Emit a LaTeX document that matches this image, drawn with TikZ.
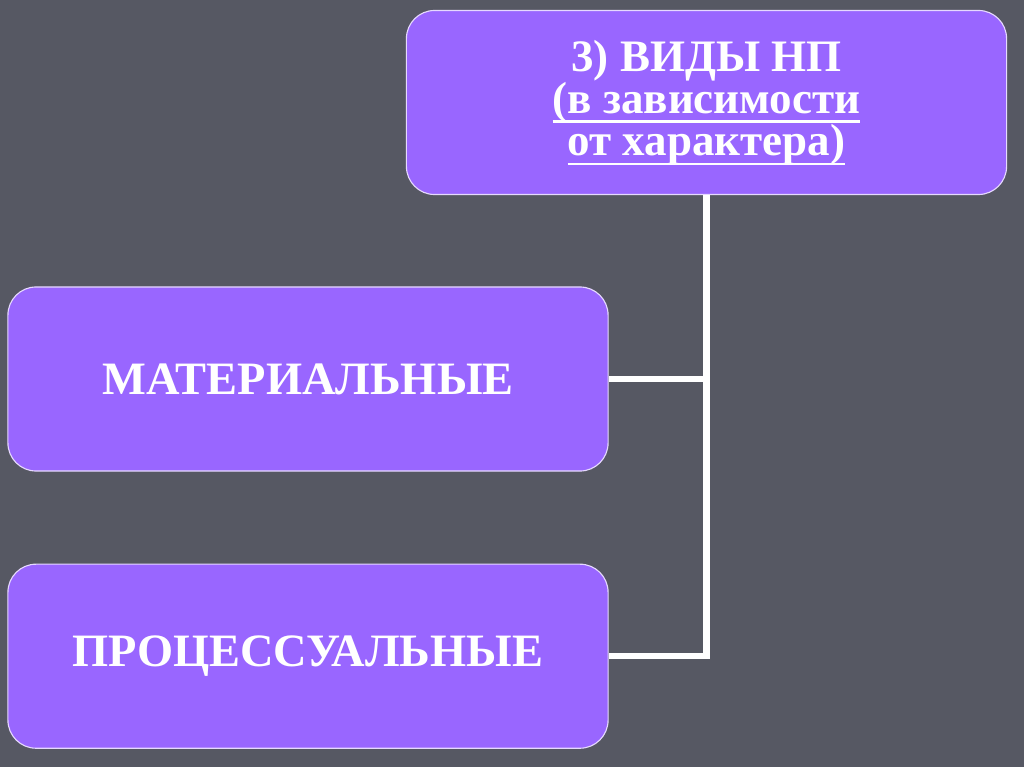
\documentclass[tikz,border=0pt]{standalone}
\usepackage{fontspec}
\setmainfont{Liberation Serif}
\usetikzlibrary{positioning}
\definecolor{bgslate}{RGB}{86,88,99}
\definecolor{boxviolet}{RGB}{153,102,255}
\newcommand{\ulline}[1]{\setbox0\hbox{#1}\rlap{\smash{\rule[-7pt]{\wd0}{2pt}}}\box0}
\tikzset{
  vbox/.style={draw=white!75!boxviolet, line width=0.8pt, fill=boxviolet,
    rounded corners=20pt, text=white, align=center,
    inner sep=0pt, minimum width=15cm, minimum height=4.6cm,
    font=\bfseries\fontsize{33}{36}\selectfont},
  conn/.style={draw=white, line width=4.3pt}
}
\begin{document}
\begin{tikzpicture}[x=0.025cm,y=-0.025cm]
				\fill[bgslate] (0,0) rectangle (1024,767);
				\useasboundingbox (0,0) rectangle (1024,767);
				\node[vbox, font=\bfseries\fontsize{32}{28}\selectfont](vidy) at (706.5,102.5){3) ВИДЫ НП\\\ulline{(в зависимости}\\\ulline{от характера)}};
				\node[vbox](mater) at (308,379){МАТЕРИАЛЬНЫЕ};
				\node[vbox, below=2.3cm of mater](protsess){ПРОЦЕССУАЛЬНЫЕ};
				\draw[conn](vidy.south) |- (protsess.east);
				\draw[conn](mater.east) -- (mater.east -| vidy.south);
			\end{tikzpicture}
\end{document}
